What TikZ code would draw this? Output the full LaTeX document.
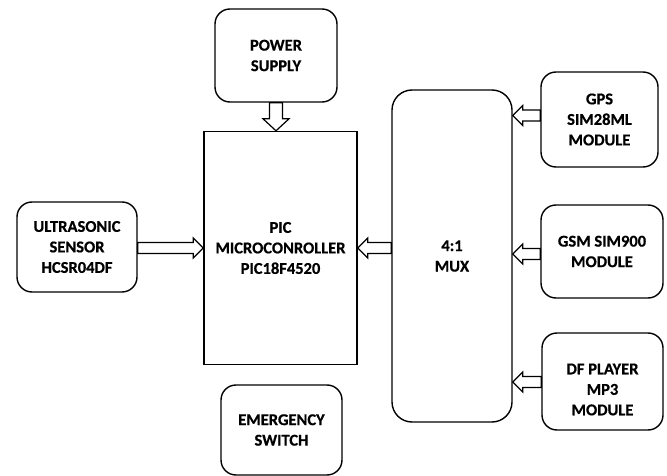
\documentclass[tikz,border=0pt]{standalone}
\usepackage{fontspec}
\setmainfont{Carlito}[BoldFeatures={FakeBold=0.6}]
\usetikzlibrary{calc}
\tikzset{
  box/.style={draw, line width=1.4pt, rounded corners=15pt, align=center,
    font=\bfseries\fontsize{16.5}{20.5}\selectfont, inner sep=0pt},
  sqbox/.style={box, rounded corners=0pt},
  blk/.style={draw, line width=1.2pt, fill=white, line join=miter},
}
% horizontal block arrow from #1 to #2
\newcommand\harrow[2]{%
  \draw[blk] let \p1=#1, \p2=#2, \n1={sign(\x2-\x1)} in
    (\x1,\y1+5.5pt) -- (\x2-\n1*10pt,\y1+5.5pt) -- (\x2-\n1*10pt,\y1+10pt) -- (\x2,\y1)
    -- (\x2-\n1*10pt,\y1-10pt) -- (\x2-\n1*10pt,\y1-5.5pt) -- (\x1,\y1-5.5pt) -- cycle;}
% vertical block arrow from #1 to #2
\newcommand\varrow[2]{%
  \draw[blk] let \p1=#1, \p2=#2, \n1={sign(\y2-\y1)} in
    (\x1+6.5pt,\y1) -- (\x1+6.5pt,\y2-\n1*12pt) -- (\x1+13pt,\y2-\n1*12pt) -- (\x1,\y2)
    -- (\x1-13pt,\y2-\n1*12pt) -- (\x1-6.5pt,\y2-\n1*12pt) -- (\x1-6.5pt,\y1) -- cycle;}
\begin{document}
\begin{tikzpicture}[x=1pt,y=-1pt]
\useasboundingbox (0,0) rectangle (667,476);
\node[box, minimum width=122pt, minimum height=93pt] (pow) at (276,55.5) {POWER\\SUPPLY};
\node[sqbox, minimum width=153pt, minimum height=233pt] (pic) at (280.5,248) {PIC\\MICROCONROLLER\\PIC18F4520};
\node[box, minimum width=120pt, minimum height=90pt] (us) at (77,247) {ULTRASONIC\\SENSOR\\HCSR04DF};
\node[box, rounded corners=20pt, minimum width=120pt, minimum height=332pt] (mux) at (452,256) {4:1\\MUX};
\node[box, minimum width=117pt, minimum height=95pt] (gps) at (599.5,119.5) {GPS\\SIM28ML\\MODULE};
\node[box, minimum width=122pt, minimum height=93pt] (gsm) at (602,251.5) {GSM SIM900\\MODULE};
\node[box, minimum width=121pt, minimum height=97pt] (df) at (602.5,381.5) {};
\node[align=center, font=\bfseries\fontsize{16.5}{20.5}\selectfont, inner sep=0pt] (dft) at ([yshift=-8pt]df.center) {DF PLAYER\\MP3\\MODULE};
\node[box, minimum width=121pt, minimum height=90pt] (em) at (281.5,430) {EMERGENCY\\SWITCH};
\varrow{(pow.south)}{(pic.north -| pow.south)}
\harrow{(us.east |- 0,248)}{(pic.west |- 0,248)}
\harrow{(mux.west |- 0,248)}{(pic.east |- 0,248)}
\harrow{(gps.west |- 0,115.5)}{(mux.east |- 0,115.5)}
\harrow{(gsm.west |- 0,254)}{(mux.east |- 0,254)}
\harrow{(df.west |- 0,382)}{(mux.east |- 0,382)}
\end{tikzpicture}
\end{document}
